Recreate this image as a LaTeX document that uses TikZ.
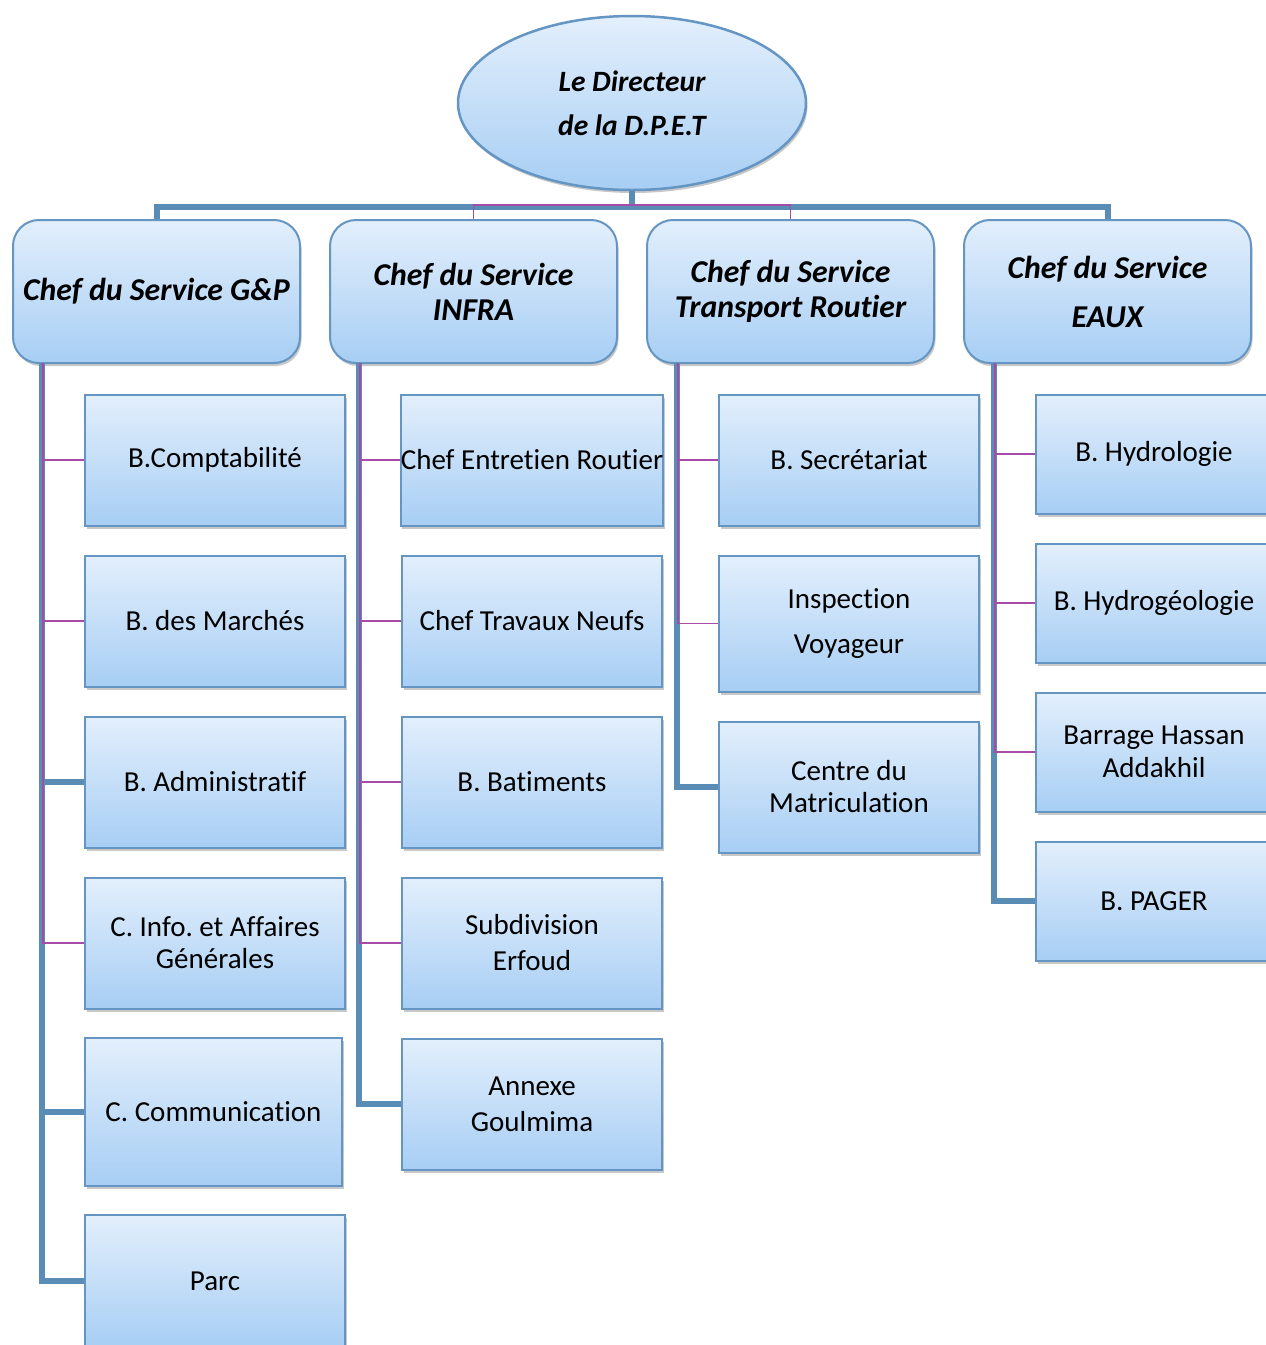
\documentclass[tikz,border=0pt]{standalone}
\usepackage{fontspec}
\setmainfont{Carlito}[Ligatures={NoCommon,NoContextual},Contextuals=NoAlternate]
\usetikzlibrary{shapes.geometric,shadows}
\definecolor{lineblue}{HTML}{5A8DB5}
\definecolor{boxborder}{HTML}{6495C3}
\definecolor{mag}{HTML}{A64CA8}
\definecolor{ftop}{HTML}{E3EFFC}
\definecolor{fbot}{HTML}{A7CEF4}
\tikzset{
  shadowed/.style={drop shadow={shadow xshift=1.5pt,shadow yshift=-3pt,opacity=0.3,fill=black!70}},
  childbox/.style={rectangle,draw=boxborder,line width=2pt,top color=ftop,bottom color=fbot,
    shadowed,minimum width=260pt,minimum height=131pt,inner sep=0pt,align=center,
    font=\fontsize{29}{32}\selectfont},
  headbox/.style={rectangle,rounded corners=26pt,draw=boxborder,line width=2pt,top color=ftop,bottom color=fbot,
    shadowed,minimum width=287pt,minimum height=143pt,inner sep=0pt,align=center,
    font=\fontsize{31.8}{35}\selectfont\bfseries\itshape},
  dirbox/.style={ellipse,draw=boxborder,line width=2.5pt,top color=ftop,bottom color=fbot,
    shadowed,minimum width=348pt,minimum height=174pt,inner sep=0pt,align=center,
    font=\fontsize{29.5}{35}\selectfont\bfseries\itshape},
  bigline/.style={draw=lineblue,line width=6pt,line join=miter},
  magline/.style={draw=mag,line width=1.8pt},
}
\frenchspacing
\begin{document}
\frenchspacing
\begin{tikzpicture}[x=1pt,y=-1pt]
\useasboundingbox (0,0) rectangle (1266,1345);
\clip (0,0) rectangle (1266,1345);
\fill[white] (0,0) rectangle (1266,1345);

% coordinates for bus and spines
\coordinate (bus) at (632,207);
\coordinate (mbus) at (632,205);
\coordinate (s1) at (42,363);
\coordinate (s2) at (359,363);
\coordinate (s3) at (677,363);
\coordinate (s4) at (994,363);

\node[dirbox] (dir) at (632,103) {Le Directeur\\[9pt]de la D.P.E.T};
\coordinate (gpn) at (156.5,220);
\coordinate (infn) at (473.5,220);
\coordinate (trn) at (790.5,220);
\coordinate (eaun) at (1107.5,220);

\draw[bigline] (dir.south) -- (bus);
\draw[bigline] (gpn) -- (gpn |- bus) -- (eaun |- bus) -- (eaun);
\draw[magline] (infn) -- (infn |- mbus) -- (trn |- mbus) -- (trn);

% header boxes
\node[headbox] (gp) at (156.5,291.5) {Chef du Service G\&P};
\node[headbox] (infra) at (473.5,291.5) {Chef du Service\\INFRA};
\node[headbox] (tr) at (790.5,291.5) {Chef du Service\\Transport Routier};
\node[headbox] (eaux) at (1107.5,291.5) {Chef du Service\\[14pt]EAUX};

% column 1 boxes
\node[childbox] (c1a) at (215,460) {B.Comptabilité};
\node[childbox] (c1b) at (215,621) {B. des Marchés};
\node[childbox] (c1c) at (215,782) {B. Administratif};
\node[childbox] (c1d) at (215,943) {C. Info. et Affaires\\Générales};
\node[childbox,minimum width=257pt,minimum height=148pt] (c1e) at (213.5,1112) {C. Communication};
\node[childbox,minimum height=132pt] (c1f) at (215,1281) {Parc};

% column 2 boxes
\node[childbox] (c2a) at (532,460) {Chef Entretien Routier};
\node[childbox] (c2b) at (532,621) {Chef Travaux Neufs};
\node[childbox] (c2c) at (532,782) {B. Batiments};
\node[childbox] (c2d) at (532,943) {Subdivision\\[4pt]Erfoud};
\node[childbox] (c2e) at (532,1104) {Annexe\\[4pt]Goulmima};

% column 3 boxes
\node[childbox] (c3a) at (849,460) {B. Secrétariat};
\node[childbox,minimum height=136pt] (c3b) at (849,623.5) {Inspection\\[13pt]Voyageur};
\node[childbox] (c3c) at (849,787) {Centre du\\Matriculation};

% column 4 boxes
\node[childbox,minimum width=236pt,minimum height=119pt] (c4a) at (1154,454) {B. Hydrologie};
\node[childbox,minimum width=236pt,minimum height=119pt] (c4b) at (1154,603) {B. Hydrogéologie};
\node[childbox,minimum width=236pt,minimum height=119pt] (c4c) at (1154,752) {Barrage Hassan\\[1pt]Addakhil};
\node[childbox,minimum width=236pt,minimum height=119pt] (c4d) at (1154,901) {B. PAGER};

% column 1 connectors
\draw[bigline] (s1) -- (s1 |- c1f.west) -- (c1f.west);
\draw[bigline] (s1 |- c1c.west) -- (c1c.west);
\draw[bigline] (s1 |- c1e.west) -- (c1e.west);
\draw[magline] ([xshift=1pt]s1) -- ([xshift=1pt]s1 |- c1d.west) -- (c1d.west);
\draw[magline] ([xshift=1pt]s1 |- c1a.west) -- (c1a.west);
\draw[magline] ([xshift=1pt]s1 |- c1b.west) -- (c1b.west);

% column 2 connectors
\draw[bigline] (s2) -- (s2 |- c2e.west) -- (c2e.west);
\draw[magline] ([xshift=1pt]s2) -- ([xshift=1pt]s2 |- c2d.west) -- (c2d.west);
\draw[magline] ([xshift=1pt]s2 |- c2a.west) -- (c2a.west);
\draw[magline] ([xshift=1pt]s2 |- c2b.west) -- (c2b.west);
\draw[magline] ([xshift=1pt]s2 |- c2c.west) -- (c2c.west);

% column 3 connectors
\draw[bigline] (s3) -- (s3 |- c3c.west) -- (c3c.west);
\draw[magline] ([xshift=1pt]s3) -- ([xshift=1pt]s3 |- c3b.west) -- (c3b.west);
\draw[magline] ([xshift=1pt]s3 |- c3a.west) -- (c3a.west);

% column 4 connectors
\draw[bigline] (s4) -- (s4 |- c4d.west) -- (c4d.west);
\draw[magline] ([xshift=1pt]s4) -- ([xshift=1pt]s4 |- c4c.west) -- (c4c.west);
\draw[magline] ([xshift=1pt]s4 |- c4a.west) -- (c4a.west);
\draw[magline] ([xshift=1pt]s4 |- c4b.west) -- (c4b.west);
\end{tikzpicture}
\end{document}
